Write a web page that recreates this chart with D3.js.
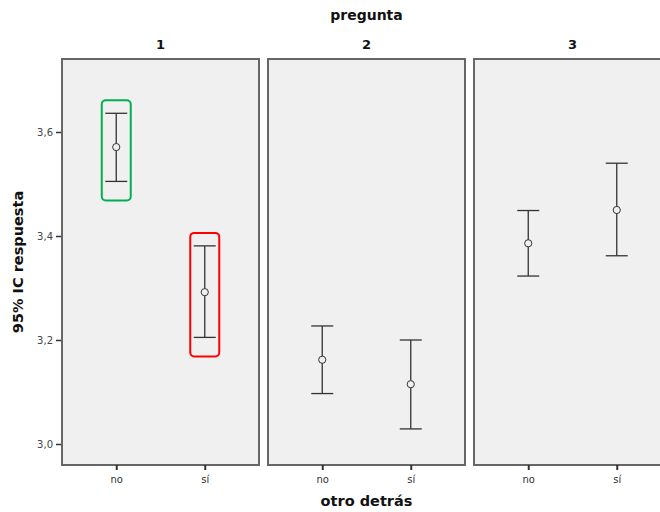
<!DOCTYPE html>
<html>
<head>
<meta charset="utf-8">
<script src="https://cdn.jsdelivr.net/npm/d3@7"></script>
<style>
  html, body { margin: 0; padding: 0; background: #fff; }
  svg { display: block; font-family: "DejaVu Sans", sans-serif; }
</style>
</head>
<body>
<svg id="chart" width="660" height="512"></svg>
<script>
// Panels (pregunta) and groups (otro detrás)
const preguntas = ["1", "2", "3"];
const grupos = ["no", "sí"];

// Mean and 95% CI per pregunta, in grupo order
const medias   = [[3.571, 3.292], [3.162, 3.115], [3.386, 3.450]];
const limInf   = [[3.505, 3.205], [3.097, 3.029], [3.323, 3.362]];
const limSup   = [[3.636, 3.381], [3.227, 3.200], [3.449, 3.540]];

// Y axis ticks
const yTicks = [3.0, 3.2, 3.4, 3.6];

// Highlighted intervals: [pregunta index, grupo index, colour]
const resaltados = [[0, 0, "#00b050"], [0, 1, "#ff0000"]];

const svg = d3.select("#chart");
const plotTop = 59, plotBottom = 465, left0 = 62, panelW = 197, gap = 9;

const y = d3.scaleLinear().domain([2.9596, 3.7404]).range([plotBottom, plotTop]);
const panelX = d3.scaleBand().domain(preguntas)
  .range([left0, left0 + 3 * panelW + 2 * gap]).paddingInner(gap / (panelW + gap));
const x = d3.scalePoint().domain(grupos).range([0, panelW]).padding(0.613);

const esLocale = d3.formatLocale({ decimal: ",", thousands: ".", grouping: [3], currency: ["", "€"] });
const fmt = esLocale.format(".1f");

// Title over the panels
const midX = left0 + (3 * panelW + 2 * gap) / 2;
svg.append("text").attr("x", midX).attr("y", 20).attr("text-anchor", "middle")
  .attr("font-weight", "bold").attr("font-size", 14).attr("fill", "#111").text("pregunta");

preguntas.forEach((p, i) => {
  const g = svg.append("g").attr("transform", `translate(${panelX(p)},0)`);
  g.append("rect").attr("x", 0).attr("y", plotTop).attr("width", panelW).attr("height", plotBottom - plotTop)
    .attr("fill", "#f0f0f0").attr("stroke", "#666").attr("stroke-width", 2);
  g.append("text").attr("x", panelW / 2).attr("y", 49).attr("text-anchor", "middle")
    .attr("font-weight", "bold").attr("font-size", 13).attr("fill", "#111").text(p);

  // x axis
  const ax = g.append("g").attr("transform", `translate(0,${plotBottom})`)
    .call(d3.axisBottom(x).tickSize(5).tickSizeOuter(0));
  ax.select(".domain").remove();
  ax.selectAll("line").attr("stroke", "#333").attr("stroke-width", 2);
  ax.selectAll("text").attr("font-size", 10).attr("fill", "#333").attr("dy", "1em")
    .attr("font-family", "DejaVu Sans, sans-serif");

  // error bars
  grupos.forEach((gr, j) => {
    const cx = x(gr);
    const bar = g.append("g").attr("stroke", "#333").attr("fill", "none");
    bar.append("line").attr("x1", cx).attr("x2", cx)
      .attr("y1", y(limSup[i][j])).attr("y2", y(limInf[i][j])).attr("stroke-width", 1.3);
    [limSup[i][j], limInf[i][j]].forEach(v => {
      bar.append("line").attr("x1", cx - 11).attr("x2", cx + 11)
        .attr("y1", y(v)).attr("y2", y(v)).attr("stroke-width", 1.3);
    });
    bar.append("circle").attr("cx", cx).attr("cy", y(medias[i][j])).attr("r", 3.6)
      .attr("fill", "#f0f0f0").attr("stroke-width", 1);
  });

  // highlight boxes
  resaltados.filter(r => r[0] === i).forEach(([pi, j, col]) => {
    const cx = x(grupos[j]);
    const y1 = y(limSup[pi][j]) - 13, y2 = y(limInf[pi][j]) + 19;
    g.append("rect").attr("x", cx - 14.5).attr("y", y1).attr("width", 29).attr("height", y2 - y1)
      .attr("rx", 4).attr("fill", "none").attr("stroke", col).attr("stroke-width", 2);
  });
});

// y axis
const ay = svg.append("g").attr("transform", `translate(${left0 - 1},0)`)
  .call(d3.axisLeft(y).tickValues(yTicks).tickFormat(fmt).tickSize(5).tickPadding(3));
ay.select(".domain").remove();
ay.selectAll("line").attr("stroke", "#333").attr("stroke-width", 1.5);
ay.selectAll("text").attr("font-size", 10).attr("fill", "#444").attr("font-family", "DejaVu Sans, sans-serif");

svg.append("text").attr("transform", `translate(23,${(plotTop + plotBottom) / 2}) rotate(-90)`)
  .attr("text-anchor", "middle").attr("font-weight", "bold").attr("font-size", 14.5).attr("fill", "#111")
  .text("95% IC respuesta");

svg.append("text").attr("x", midX).attr("y", 506).attr("text-anchor", "middle")
  .attr("font-weight", "bold").attr("font-size", 14.5).attr("fill", "#111").text("otro detrás");
</script>
</body>
</html>
